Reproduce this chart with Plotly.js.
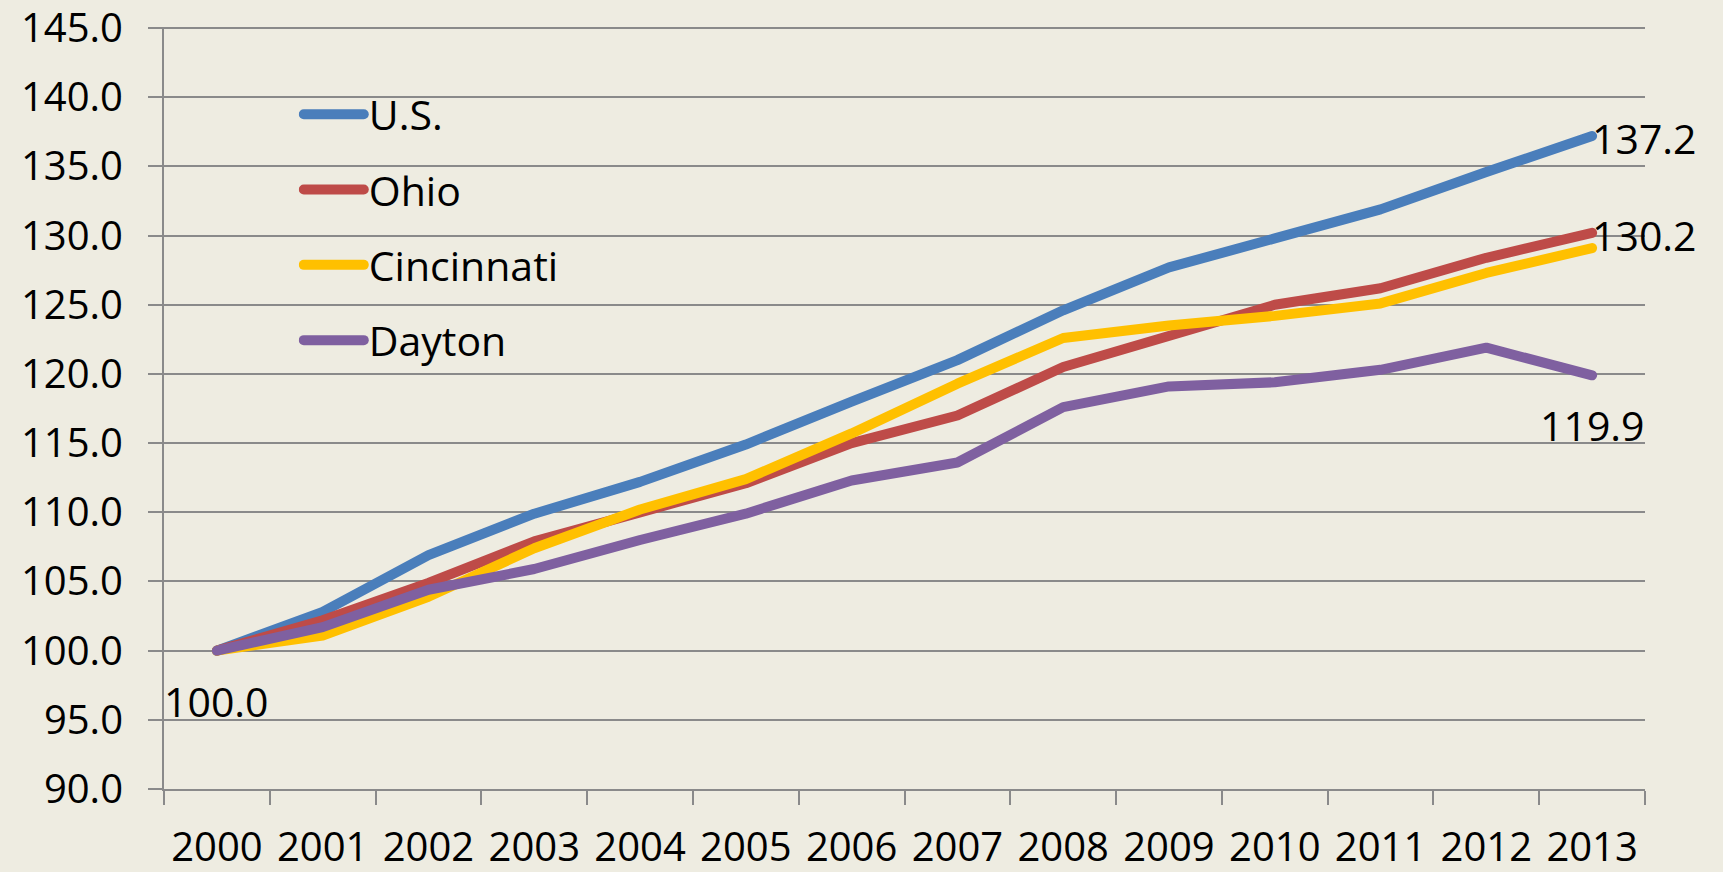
<!DOCTYPE html>
<html>
<head>
<meta charset="utf-8">
<script src="https://cdn.plot.ly/plotly-3.0.1.min.js"></script>
<style>
html, body { margin: 0; padding: 0; background: #EEECE1; }
#chart { width: 1723px; height: 872px; }
.scatterlayer path.js-line { stroke-linecap: round; stroke-linejoin: round; }
.legendlines path { stroke-linecap: round; }
</style>
</head>
<body>
<div id="chart"></div>
<script>
const years = ["2000","2001","2002","2003","2004","2005","2006","2007","2008","2009","2010","2011","2012","2013"];
const us         = [100.0,102.8,106.9,109.9,112.2,114.9,118.0,121.0,124.6,127.7,129.8,131.9,134.6,137.2];
const ohio       = [100.0,102.2,104.9,107.9,110.0,112.1,115.0,117.0,120.5,122.7,125.0,126.2,128.4,130.2];
const cincinnati = [100.0,101.1,103.9,107.4,110.2,112.4,115.7,119.3,122.6,123.5,124.2,125.1,127.3,129.1];
const dayton     = [100.0,101.7,104.4,105.9,108.0,109.9,112.3,113.6,117.6,119.1,119.4,120.3,121.9,119.9];
const seriesNames = ["U.S.","Ohio","Cincinnati","Dayton"];
const colors = ["#4A7EBB","#BE4B48","#FFC000","#7F60A0"];
const allSeries = [us, ohio, cincinnati, dayton];

const font = "'Open Sans', 'DejaVu Sans', sans-serif";
const gridColor = "#8A8A8A";

const traces = allSeries.map((vals, i) => ({
  type: "scatter",
  mode: "lines",
  x: years,
  y: vals,
  name: seriesNames[i],
  legendgroup: "g" + i,
  line: { color: colors[i], width: 10 },
  hoverinfo: "x+y+name"
}));

// category axis: annotation x uses the category index
const lastIdx = years.length - 1;
const annotations = [
  { x: lastIdx, y: us[lastIdx], text: us[lastIdx].toFixed(1), xanchor: "left", yanchor: "middle", xshift: -2, yshift: -2 },
  { x: lastIdx, y: ohio[lastIdx], text: ohio[lastIdx].toFixed(1), xanchor: "left", yanchor: "middle", xshift: -2, yshift: -2 },
  { x: lastIdx, y: dayton[lastIdx], text: dayton[lastIdx].toFixed(1), xanchor: "center", yanchor: "middle", yshift: -50 },
  { x: 0, y: dayton[0], text: dayton[0].toFixed(1), xanchor: "center", yanchor: "middle", yshift: -50 }
].map(a => Object.assign({ xref: "x", yref: "y", showarrow: false, font: { family: font, size: 41, color: "#000" } }, a));

const layout = {
  width: 1723,
  height: 872,
  paper_bgcolor: "#EEECE1",
  plot_bgcolor: "#EEECE1",
  margin: { l: 164, r: 78, t: 27, b: 83 },
  font: { family: font, size: 41, color: "#000" },
  showlegend: true,
  legend: {
    x: 0.091, y: 0.929, xanchor: "left", yanchor: "top",
    bgcolor: "rgba(0,0,0,0)",
    font: { family: font, size: 41, color: "#000" },
    tracegroupgap: 19,
    itemwidth: 60
  },
  xaxis: {
    type: "category",
    range: [-0.5, 13.5],
    tickson: "boundaries",
    ticks: "outside",
    ticklen: 14,
    tickwidth: 2,
    tickcolor: gridColor,
    showline: true,
    linecolor: gridColor,
    linewidth: 2,
    showgrid: false,
    zeroline: false,
    tickfont: { family: font, size: 40, color: "#000" },
    ticklabelstandoff: 22,
    fixedrange: true
  },
  yaxis: {
    range: [90, 145.08],
    tickmode: "linear",
    dtick: 5,
    tick0: 90,
    tickformat: ".1f",
    ticks: "outside",
    ticklen: 14,
    tickwidth: 2,
    tickcolor: gridColor,
    showline: true,
    linecolor: gridColor,
    linewidth: 2,
    showgrid: true,
    gridcolor: gridColor,
    gridwidth: 2,
    zeroline: false,
    tickfont: { family: font, size: 40, color: "#000" },
    ticklabelstandoff: 17,
    ticklabeloverflow: "allow",
    fixedrange: true
  },
  annotations: annotations
};

Plotly.newPlot("chart", traces, layout, { displayModeBar: false, staticPlot: true });
</script>
</body>
</html>
